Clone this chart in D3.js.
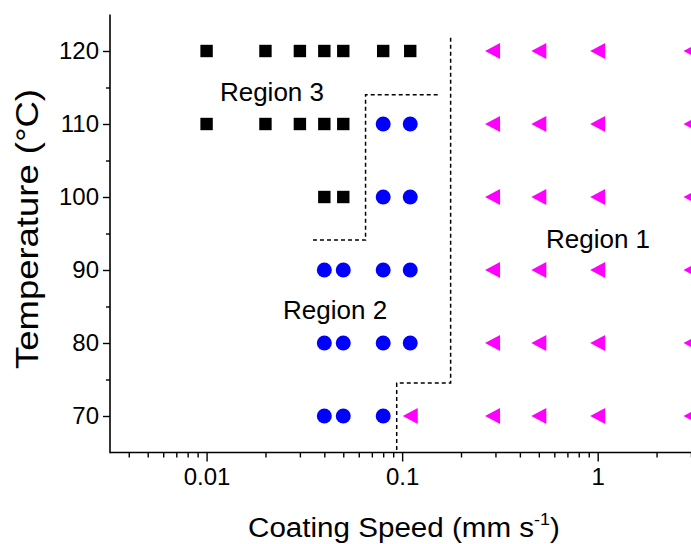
<!DOCTYPE html>
<html>
<head>
<meta charset="utf-8">
<script src="https://cdn.jsdelivr.net/npm/d3@7"></script>
<style>
  html, body { margin: 0; padding: 0; background: #fff; }
  svg { display: block; }
  text { font-family: Arial, "Liberation Sans", Helvetica, sans-serif; fill: #000; }
</style>
</head>
<body>
<svg id="chart" width="691" height="544"></svg>
<script>
// ---- data ----
const region3Speed = [0.01, 0.02, 0.03, 0.04, 0.05, 0.08, 0.11, 0.01, 0.02, 0.03, 0.04, 0.05, 0.04, 0.05];
const region3Temp  = [120, 120, 120, 120, 120, 120, 120, 110, 110, 110, 110, 110, 100, 100];

const region2Speed = [0.08, 0.11, 0.08, 0.11, 0.04, 0.05, 0.08, 0.11, 0.04, 0.05, 0.08, 0.11, 0.04, 0.05, 0.08];
const region2Temp  = [110, 110, 100, 100, 90, 90, 90, 90, 80, 80, 80, 80, 70, 70, 70];

const region1Speed = [0.29, 0.5, 1, 3, 0.29, 0.5, 1, 3, 0.29, 0.5, 1, 3, 0.29, 0.5, 1, 3, 0.29, 0.5, 1, 3, 0.11, 0.29, 0.5, 1, 3];
const region1Temp  = [120, 120, 120, 120, 110, 110, 110, 110, 100, 100, 100, 100, 90, 90, 90, 90, 80, 80, 80, 80, 70, 70, 70, 70, 70];

// boundary lines (speed, temperature)
const boundary1Speed = [0.177, 0.177, 0.0938, 0.0938];
const boundary1Temp  = [121.8, 74.52, 74.52, 65];
const boundary2Speed = [0.152, 0.065, 0.065, 0.034];
const boundary2Temp  = [114.0, 114.0, 94.1, 94.1];

const xTickValues = [0.01, 0.1, 1];
const xTickLabels = ["0.01", "0.1", "1"];
const yTickValues = [70, 80, 90, 100, 110, 120];
const yTickLabels = ["70", "80", "90", "100", "110", "120"];
const yMinorValues = [75, 85, 95, 105, 115];

const regionLabels = ["Region 1", "Region 2", "Region 3"];
const regionLabelSpeed = [0.544, 0.0246, 0.0117];
const regionLabelTemp  = [92.97, 83.25, 113.2];

// ---- layout ----
const svg = d3.select("#chart");
const mLeft = 110, mRight = 691, mTop = 14.5, mBottom = 452.5;

const x = d3.scaleLog().domain([0.003207, 3.0]).range([mLeft, mRight]);
const y = d3.scaleLinear().domain([65, 125]).range([mBottom, mTop]);

function styleAxis(g) {
  g.selectAll(".domain").remove();
  g.selectAll(".tick line").attr("stroke", "#000").attr("stroke-width", 1.4);
  g.selectAll(".tick text").attr("font-size", 24)
    .attr("font-family", "Arial, 'Liberation Sans', sans-serif").attr("fill", "#000");
}

// ---- axes ----
const minorX = [];
for (let e = -3; e <= 0; e++) {
  for (let m = 2; m <= 9; m++) {
    const v = m * Math.pow(10, e);
    if (v >= x.domain()[0] && v <= x.domain()[1]) minorX.push(v);
  }
}
svg.append("g").attr("transform", `translate(0,${mBottom})`)
  .call(d3.axisBottom(x).tickValues(minorX).tickSize(5).tickFormat(""))
  .call(styleAxis);
svg.append("g").attr("transform", `translate(0,${mBottom})`)
  .call(d3.axisBottom(x).tickValues(xTickValues).tickSize(9).tickPadding(6)
    .tickFormat((d, i) => xTickLabels[i]))
  .call(styleAxis);

svg.append("g").attr("transform", `translate(${mLeft},0)`)
  .call(d3.axisLeft(y).tickValues(yMinorValues).tickSize(4).tickFormat(""))
  .call(styleAxis);
svg.append("g").attr("transform", `translate(${mLeft},0)`)
  .call(d3.axisLeft(y).tickValues(yTickValues).tickSize(7).tickPadding(4)
    .tickFormat((d, i) => yTickLabels[i]))
  .call(styleAxis);

// axis lines
svg.append("line").attr("x1", mLeft).attr("x2", mRight).attr("y1", mBottom).attr("y2", mBottom)
  .attr("stroke", "#000").attr("stroke-width", 1.6);
svg.append("line").attr("x1", mLeft).attr("x2", mLeft).attr("y1", mTop).attr("y2", mBottom + 0.8)
  .attr("stroke", "#000").attr("stroke-width", 1.6);

// ---- boundary dashed lines ----
const line = d3.line().x(d => x(d[0])).y(d => y(d[1]));
[[boundary1Speed, boundary1Temp], [boundary2Speed, boundary2Temp]].forEach(([s, t]) => {
  svg.append("path")
    .attr("d", line(s.map((v, i) => [v, t[i]])))
    .attr("fill", "none").attr("stroke", "#000")
    .attr("stroke-width", 1.5).attr("stroke-dasharray", "4,3");
});

// ---- markers ----
const pts3 = region3Speed.map((v, i) => [v, region3Temp[i]]);
const pts2 = region2Speed.map((v, i) => [v, region2Temp[i]]);
const pts1 = region1Speed.map((v, i) => [v, region1Temp[i]]);

svg.append("g").selectAll("rect").data(pts3).join("rect")
  .attr("x", d => x(d[0]) - 6.2).attr("y", d => y(d[1]) - 6.2)
  .attr("width", 12.4).attr("height", 12.4).attr("fill", "#000");

svg.append("g").selectAll("circle").data(pts2).join("circle")
  .attr("cx", d => x(d[0])).attr("cy", d => y(d[1])).attr("r", 7.5)
  .attr("fill", "#0000ff");

svg.append("g").selectAll("path").data(pts1).join("path")
  .attr("transform", d => `translate(${x(d[0])},${y(d[1])})`)
  .attr("d", "M-7.5,0L7.5,-8L7.5,8Z")
  .attr("fill", "#ff00ff");

// ---- region labels ----
svg.append("g").selectAll("text").data(regionLabels).join("text")
  .attr("x", (d, i) => x(regionLabelSpeed[i]))
  .attr("y", (d, i) => y(regionLabelTemp[i]))
  .attr("font-size", 26)
  .text(d => d);

// ---- axis titles ----
function stretchTo(sel, cx, cy, target, rot) {
  const w = sel.node().getComputedTextLength();
  const s = target / w;
  sel.attr("transform", `translate(${cx},${cy}) rotate(${rot}) scale(${s},1)`);
}
const xt = svg.append("text")
  .attr("text-anchor", "middle").attr("font-size", 28);
xt.append("tspan").text("Coating Speed (mm s");
xt.append("tspan").attr("font-size", 17).attr("dy", -12).text("-1");
xt.append("tspan").attr("dy", 12).text(")");
stretchTo(xt, 404, 537, 312, 0);

const yt = svg.append("text")
  .attr("text-anchor", "middle").attr("font-size", 32)
  .text("Temperature (°C)");
stretchTo(yt, 38, 229, 280, -90);
</script>
</body>
</html>
